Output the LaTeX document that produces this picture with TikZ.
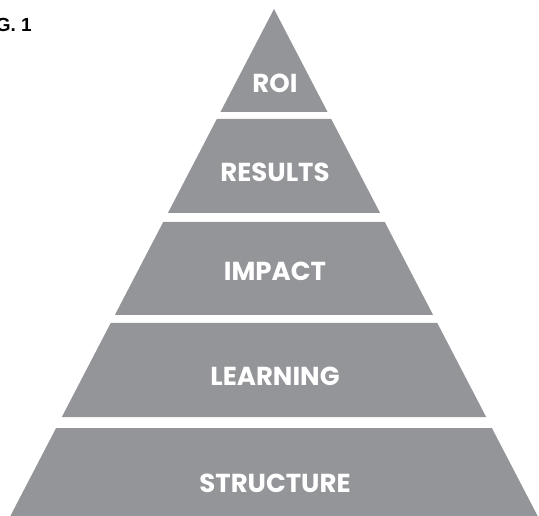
\documentclass[tikz,border=0pt]{standalone}
\usepackage{fontspec}
\setmainfont{Poppins}
\newfontfamily\figfont{Liberation Sans}
\definecolor{pyrgray}{HTML}{939598}
\begin{document}
\begin{tikzpicture}[x=1pt,y=-1pt,
  band/.style={fill=pyrgray},
  lbl/.style={text=white,font=\bfseries\fontsize{26}{26}\selectfont,anchor=base,inner sep=0pt}]
\useasboundingbox (0,0) rectangle (539,516);
\foreach \yt/\yb/\txt/\bl/\nm in {9/112/ROI/93/roi, 119/213/RESULTS/182/results, 222/315/IMPACT/280/impact, 323/417/LEARNING/385/learning, 428/516/STRUCTURE/492/structure}{
  \pgfmathsetmacro\ha{0.52*(\yt-9)}
  \pgfmathsetmacro\hb{0.52*(\yb-9)}
  \fill[band] (274-\ha,\yt) -- (274+\ha,\yt) -- (274+\hb,\yb) -- (274-\hb,\yb) -- cycle;
  \node[lbl] (\nm) at (275,\bl) {\txt};
}
\node[font=\figfont\bfseries\fontsize{19}{19}\selectfont,anchor=base east,inner sep=0pt] (fig) at (32,32) {G. 1};
\end{tikzpicture}
\end{document}
